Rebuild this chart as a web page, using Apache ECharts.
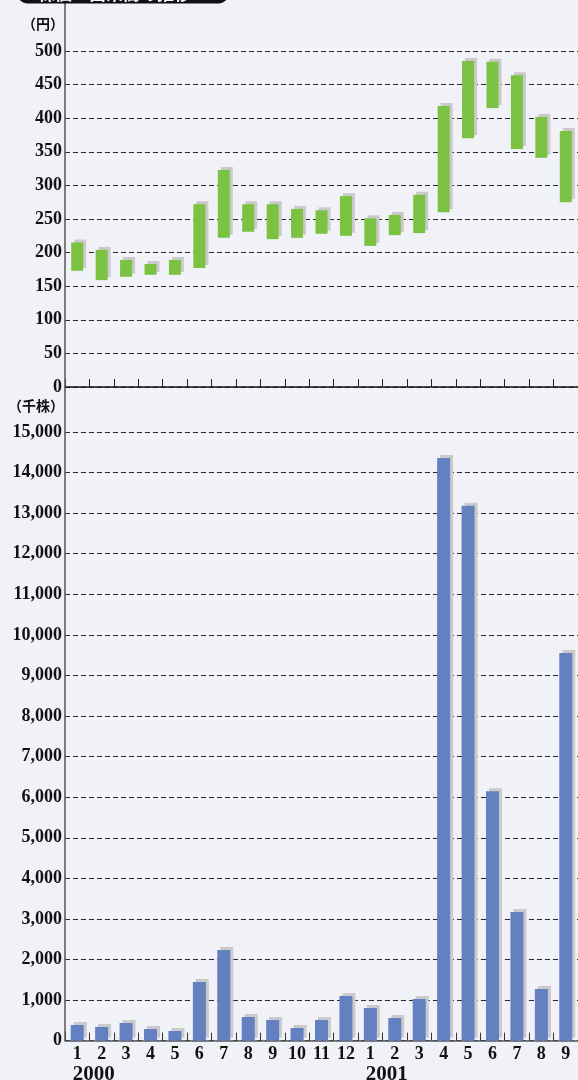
<!DOCTYPE html>
<html>
<head>
<meta charset="utf-8">
<script src="https://cdn.jsdelivr.net/npm/echarts@6/dist/echarts.min.js"></script>
<style>
  html, body { margin: 0; padding: 0; background: #f1f2f8; }
  #chart { width: 578px; height: 1080px; }
</style>
</head>
<body>
<div id="chart"></div>
<script>
// Monthly categories, Jan 2000 – Sep 2001
const months = ['1','2','3','4','5','6','7','8','9','10','11','12','1','2','3','4','5','6','7','8','9'];
const yearLabels = ['2000', '2001'];
const yearStartIndex = [0, 12];

// Monthly price range (円)
const priceHigh = [215, 204, 189, 183, 189, 272, 323, 272, 272, 265, 263, 284, 251, 256, 286, 418, 485, 484, 464, 402, 381];
const priceLow  = [173, 159, 164, 167, 167, 177, 222, 231, 220, 222, 228, 225, 210, 226, 229, 260, 370, 415, 354, 341, 275];

// Monthly volume (千株)
const volume = [387, 338, 436, 288, 239, 1446, 2235, 584, 510, 313, 510, 1101, 806, 559, 1028, 14360, 13180, 6150, 3170, 1274, 9555];

const GRID_LEFT = 65;
const SERIF = '"Liberation Serif", "DejaVu Serif", serif';
const GOTHIC = '"Noto Sans CJK JP", "Noto Sans", sans-serif';

const chart = echarts.init(document.getElementById('chart'), null, { renderer: 'canvas' });

const gridLine = { show: true, lineStyle: { color: '#2a2a2a', width: 1, type: [5, 3] } };
const shadow = { shadowColor: '#cacaca', shadowBlur: 0, shadowOffsetX: 3, shadowOffsetY: -3 };
const unitStyle = { fontFamily: GOTHIC, fontWeight: 'bold', fontSize: 14, color: '#111', align: 'right', padding: [0, 1, 0, 0] };

const option = {
  backgroundColor: '#f1f2f8',
  animation: false,
  grid: [
    { left: GRID_LEFT, right: 0, top: 51, height: 336 },
    { left: GRID_LEFT, right: 0, top: 432, height: 608.7 }
  ],
  xAxis: [
    {
      type: 'category', gridIndex: 0, data: months, boundaryGap: true,
      axisLine: { show: true, lineStyle: { color: '#111', width: 1.5 } },
      axisTick: { show: true, inside: true, length: 8, lineStyle: { color: '#222', width: 1 } },
      axisLabel: { show: false },
      splitLine: { show: false }
    },
    {
      type: 'category', gridIndex: 1, data: months, boundaryGap: true,
      axisLine: { show: true, lineStyle: { color: '#555', width: 1.5 } },
      axisTick: { show: true, inside: true, length: 8, lineStyle: { color: '#333', width: 1 } },
      axisLabel: {
        show: true, interval: 0, margin: 5,
        fontFamily: SERIF, fontWeight: 'bold', fontSize: 18, color: '#111'
      },
      splitLine: { show: false }
    }
  ],
  yAxis: [
    {
      type: 'value', gridIndex: 0, min: 0, max: 500, interval: 50,
      name: '（円）', nameLocation: 'end', nameGap: 20,
      nameTextStyle: unitStyle,
      axisLine: { show: false },
      axisTick: { show: false },
      axisLabel: { margin: 3, fontFamily: SERIF, fontWeight: 'bold', fontSize: 18, color: '#111' },
      splitLine: gridLine
    },
    {
      type: 'value', gridIndex: 1, min: 0, max: 15000, interval: 1000,
      name: '（千株）', nameLocation: 'end', nameGap: 19,
      nameTextStyle: unitStyle,
      axisLine: { show: false },
      axisTick: { show: false },
      axisLabel: {
        margin: 3, fontFamily: SERIF, fontWeight: 'bold', fontSize: 18, color: '#111',
        formatter: v => v.toLocaleString('en-US')
      },
      splitLine: gridLine
    }
  ],
  series: [
    {
      // invisible base that lifts each range bar to its monthly low
      type: 'bar', xAxisIndex: 0, yAxisIndex: 0, stack: 'range',
      data: priceLow, barWidth: 12, silent: true,
      itemStyle: { color: 'transparent' }
    },
    {
      type: 'bar', xAxisIndex: 0, yAxisIndex: 0, stack: 'range',
      data: priceHigh.map((h, i) => h - priceLow[i]), barWidth: 12,
      itemStyle: Object.assign({ color: '#7bc142' }, shadow)
    },
    {
      type: 'bar', xAxisIndex: 1, yAxisIndex: 1,
      data: volume, barWidth: 13,
      itemStyle: Object.assign({ color: '#6380c1' }, shadow)
    }
  ]
};

chart.setOption(option);

// Decorations: title tab, continuous left axis line, year captions
function placeDecorations() {
  const axisBottom = chart.convertToPixel({ yAxisIndex: 1 }, 0);
  const graphics = [
    {
      type: 'rect', shape: { x: 18, y: -24, width: 210, height: 27.5, r: 9 },
      style: { fill: '#111' }, z: 10
    },
    {
      type: 'text', x: 38, y: -6, z: 11,
      style: { text: '株価・出来高の推移', fill: '#fff', font: 'bold 17px ' + GOTHIC, textVerticalAlign: 'middle' }
    },
    {
      type: 'line', shape: { x1: GRID_LEFT, y1: 3, x2: GRID_LEFT, y2: axisBottom },
      style: { stroke: '#555', lineWidth: 1.5 }, z: 5
    }
  ];
  yearLabels.forEach((yr, k) => {
    const x = chart.convertToPixel({ xAxisIndex: 1 }, yearStartIndex[k]) - 4.5;
    graphics.push({
      type: 'text', x: x, y: axisBottom + 23, z: 5,
      style: { text: yr, fill: '#111', font: 'bold 21px ' + SERIF, textAlign: 'left', textVerticalAlign: 'top' }
    });
  });
  chart.setOption({ graphic: graphics });
}
placeDecorations();
</script>
</body>
</html>
